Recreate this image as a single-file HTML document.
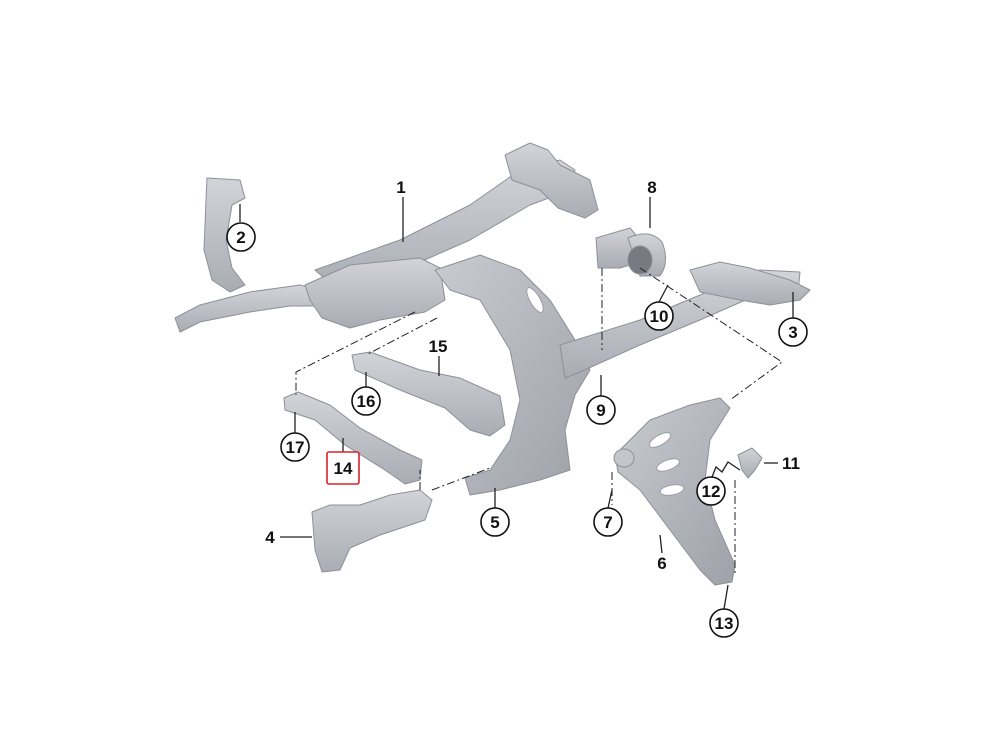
<!DOCTYPE html>
<html><head><meta charset="utf-8"><style>
html,body{margin:0;padding:0;background:#fff;width:1000px;height:731px;overflow:hidden}
svg{display:block}
text{font-family:"Liberation Sans",sans-serif;font-weight:bold;fill:#111}
</style></head><body>
<svg width="1000" height="731" viewBox="0 0 1000 731">
<defs>
<linearGradient id="g" x1="0" y1="0" x2="0" y2="1"><stop offset="0" stop-color="#d2d4d9"/><stop offset="1" stop-color="#a9acb3"/></linearGradient>
<linearGradient id="g2" x1="0" y1="0" x2="1" y2="1"><stop offset="0" stop-color="#c8cbd0"/><stop offset="1" stop-color="#9ea1a8"/></linearGradient>
</defs>
<g fill="url(#g)" stroke="#8d9097" stroke-width="1" stroke-linejoin="round">
<path d="M207,178 L240,180 L245,198 L232,205 L226,240 L232,268 L245,285 L230,292 L212,280 L204,250 L206,200 Z"/>
<path d="M175,318 L200,305 L250,292 L300,285 L318,290 L318,306 L290,306 L250,312 L200,322 L180,332 Z"/>
<path d="M315,270 L400,240 L470,205 L520,170 L560,160 L575,170 L570,190 L530,205 L470,240 L420,262 L340,292 Z"/>
<path d="M505,155 L530,143 L548,150 L560,165 L590,180 L598,210 L585,218 L558,208 L540,190 L512,180 Z"/>
<path d="M305,285 L350,265 L420,258 L440,268 L445,300 L425,312 L380,320 L350,328 L322,318 L310,300 Z"/>
<path d="M435,270 L480,255 L520,270 L550,300 L575,340 L590,370 L575,395 L565,430 L570,470 L540,480 L500,490 L470,495 L465,478 L490,470 L510,440 L520,400 L510,350 L480,300 L450,290 Z" fill="url(#g2)"/>
<path d="M560,345 L640,320 L700,295 L760,270 L800,272 L798,292 L750,298 L700,320 L640,345 L580,372 L565,378 Z"/>
<path d="M690,270 L720,262 L750,268 L790,280 L810,290 L800,300 L770,305 L740,300 L700,292 Z"/>
<path d="M596,238 L630,228 L640,240 L640,262 L620,268 L598,268 Z"/>
<path d="M628,238 Q650,228 662,242 Q670,262 660,276 L640,276 Z"/>
<ellipse cx="640" cy="260" rx="12" ry="14" fill="#777a80"/>
<path d="M352,355 L370,352 L420,370 L460,378 L500,396 L505,425 L490,436 L470,430 L445,408 L400,390 L355,370 Z"/>
<path d="M284,398 L298,392 L330,405 L360,428 L400,450 L422,460 L420,480 L405,484 L385,470 L345,445 L315,420 L285,410 Z"/>
<path d="M312,512 L330,505 L360,505 L390,495 L420,490 L432,500 L425,520 L380,535 L350,548 L340,570 L322,572 L315,550 Z"/>
<path d="M615,455 L650,420 L690,405 L720,398 L730,408 L710,440 L705,480 L715,520 L735,565 L732,582 L715,585 L700,570 L670,530 L640,490 L618,472 Z" fill="url(#g2)"/>
<ellipse cx="624" cy="458" rx="10" ry="9" fill="#c3c6cb"/>
<path d="M738,455 L752,448 L762,458 L755,470 L748,478 L742,470 Z"/>
</g>
<g fill="#fff" stroke="#9a9da3">
<ellipse cx="660" cy="440" rx="12" ry="5" transform="rotate(-30 660 440)"/>
<ellipse cx="668" cy="465" rx="12" ry="5" transform="rotate(-20 668 465)"/>
<ellipse cx="672" cy="490" rx="12" ry="5" transform="rotate(-10 672 490)"/>
<ellipse cx="535" cy="300" rx="5" ry="14" transform="rotate(-30 535 300)"/>
</g>
<g stroke="#222" stroke-width="1" fill="none" stroke-dasharray="8,3,2,3">
<path d="M415,312 L296,372 L296,395"/>
<path d="M437,318 L366,355"/>
<path d="M602,268 L602,350"/>
<path d="M640,268 L782,362 L730,400"/>
<path d="M420,490 L420,470"/>
<path d="M432,490 L490,468"/>
<path d="M735,480 L735,575"/>
<path d="M612,472 L612,505"/>
</g>
<g stroke="#222" stroke-width="1.3" fill="none">
<path d="M403,197 L403,242"/>
<path d="M240,222 L240,204"/>
<path d="M650,197 L650,228"/>
<path d="M793,318 L793,292"/>
<path d="M659,302 L668,285"/>
<path d="M439,356 L439,376"/>
<path d="M366,387 L366,372"/>
<path d="M601,396 L601,375"/>
<path d="M295,433 L295,412"/>
<path d="M343,452 L343,438"/>
<path d="M280,537 L312,537"/>
<path d="M495,508 L495,488"/>
<path d="M608,508 L612,490"/>
<path d="M662,553 L660,535"/>
<path d="M764,463 L778,463"/>
<path d="M724,609 L728,585"/>
<path d="M712,477 L716,467 L722,472 L728,462 L740,470"/>
</g>
<g fill="#fff" stroke="#111" stroke-width="1.6">
<circle cx="241" cy="237" r="14"/>
<circle cx="793" cy="332" r="14"/>
<circle cx="659" cy="316" r="14"/>
<circle cx="366" cy="401" r="14"/>
<circle cx="601" cy="410" r="14"/>
<circle cx="295" cy="447" r="14"/>
<circle cx="711" cy="491" r="14"/>
<circle cx="608" cy="522" r="14"/>
<circle cx="495" cy="522" r="14"/>
<circle cx="724" cy="623" r="14"/>
</g>
<rect x="327" y="452" width="32" height="32" rx="2" fill="#fff" stroke="#d9232a" stroke-width="1.6"/>
<g font-size="17" text-anchor="middle">
<text x="401" y="193">1</text>
<text x="241" y="243">2</text>
<text x="652" y="193">8</text>
<text x="793" y="338">3</text>
<text x="659" y="322">10</text>
<text x="438" y="352">15</text>
<text x="366" y="407">16</text>
<text x="601" y="416">9</text>
<text x="295" y="453">17</text>
<text x="343" y="474">14</text>
<text x="791" y="469">11</text>
<text x="711" y="497">12</text>
<text x="608" y="528">7</text>
<text x="495" y="528">5</text>
<text x="270" y="543">4</text>
<text x="662" y="569">6</text>
<text x="724" y="629">13</text>
</g>
</svg>
</body></html>
